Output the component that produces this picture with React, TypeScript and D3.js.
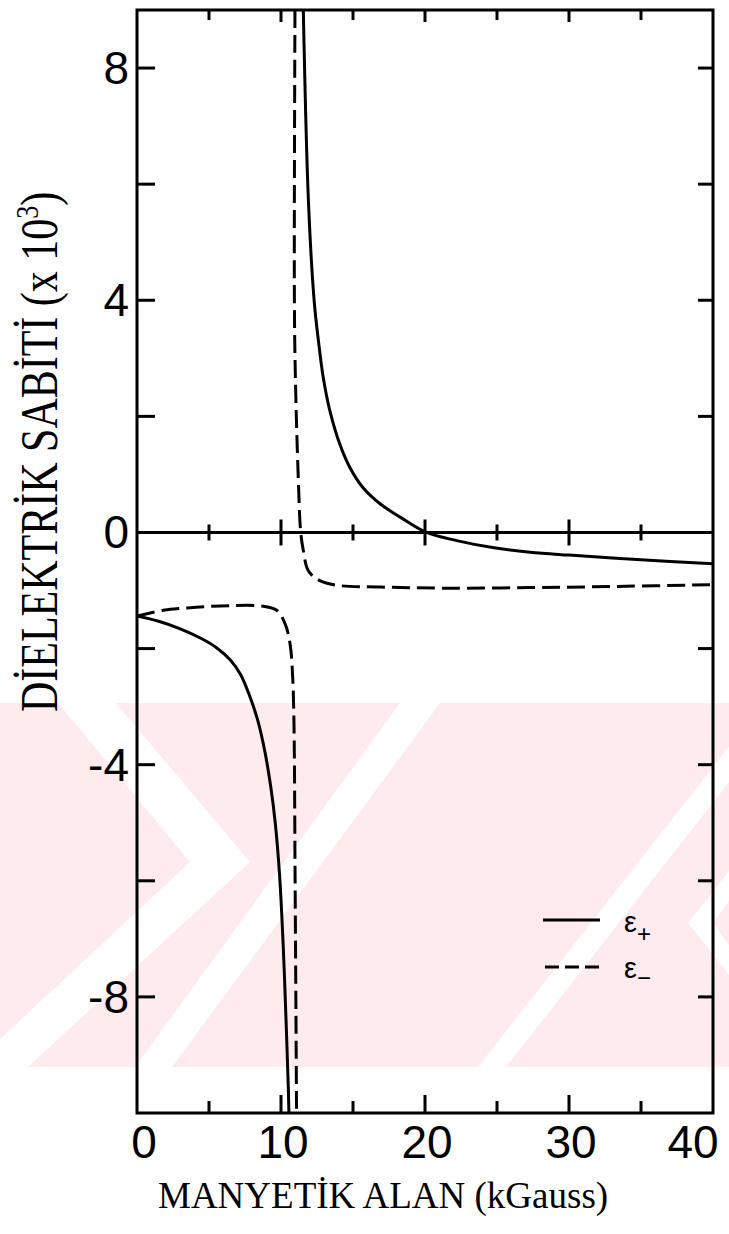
import React from "react";
import * as d3 from "d3";

// ---- data (x: kGauss, y: dielectric constant x 10^3) ----
const epsPlusLow: [number, number][] = [
  [0, -1.44], [1.5, -1.53], [3, -1.66], [4.5, -1.83], [5.5, -1.98], [6.5, -2.2],
  [7.2, -2.45], [7.8, -2.8], [8.4, -3.25], [8.9, -3.8], [9.3, -4.4], [9.6, -5.0],
  [9.9, -5.9], [10.15, -7.1], [10.35, -8.4], [10.5, -9.5], [10.55, -10],
];
const epsPlusHigh: [number, number][] = [
  [11.55, 9], [11.9, 5.74], [12.3, 4], [12.6, 3.3], [12.94, 2.66], [13.4, 2.09],
  [14.1, 1.51], [14.8, 1.11], [15.7, 0.77], [16.9, 0.49], [18.3, 0.26], [20.1, 0],
  [22.2, -0.14], [24.7, -0.26], [27.3, -0.34], [30, -0.39], [35, -0.47], [40, -0.54],
];
const epsMinusLow: [number, number][] = [
  [0, -1.44], [1.83, -1.34], [4.1, -1.29], [6.46, -1.26], [8.77, -1.27], [9.7, -1.34],
  [10.28, -1.57], [10.63, -1.92], [10.81, -2.49], [10.9, -3.29], [10.98, -6], [11.08, -10],
];
const epsMinusHigh: [number, number][] = [
  [10.97, 9], [10.93, 4], [11.0, 2.66], [11.2, 0.94], [11.37, 0], [11.55, -0.31],
  [11.9, -0.66], [12.7, -0.83], [13.9, -0.91], [16.9, -0.94], [21.5, -0.96],
  [27.3, -0.95], [33, -0.93], [40, -0.9],
];

const xMinorTicks = [5, 10, 15, 20, 25, 30, 35];
const xLabels = [0, 10, 20, 30, 40];
const yTicks = [-8, -6, -4, -2, 0, 2, 4, 6, 8];
const yLabels = [8, 4, 0, -4, -8];

// watermark (decorative background, pixel polygons)
const WM_PINK = "#fdebee";
const wmWhite: [number, number][][] = [
  [[58, 703], [116, 703], [250, 862], [28, 1067], [-30, 1067], [190, 862]],
  [[135, 1067], [172, 1067], [440, 703], [400, 703]],
  [[478, 1067], [506, 1067], [791, 703], [763, 703]],
  [[729, 871], [688, 923], [729, 975], [729, 945], [713, 923], [729, 901]],
];

const W = 729;
const H = 1234;
const L = 137, R = 713, T = 10, B = 1113;

export default function App() {
  const x = d3.scaleLinear().domain([0, 40]).range([L, R]);
  const y = d3.scaleLinear().domain([-10, 9]).range([B, T]);
  const line = d3
    .line<[number, number]>()
    .x((d) => x(d[0]))
    .y((d) => y(d[1]))
    .curve(d3.curveCatmullRom.alpha(0.5));

  const sw = 3;
  const tickFont = "'Liberation Sans', Arial, sans-serif";
  const serif = "'Liberation Serif', 'Times New Roman', serif";

  return (
    <svg
      width={W}
      height={H}
      style={{ position: "absolute", left: 0, top: 0, background: "#fff" }}
    >
      <defs>
        <clipPath id="plot">
          <rect x={L} y={T} width={R - L} height={B - T} />
        </clipPath>
      </defs>
      {/* watermark */}
      <rect x={0} y={703} width={W} height={364} fill={WM_PINK} />
      {wmWhite.map((p, i) => (
        <polygon key={i} points={p.map((q) => q.join(",")).join(" ")} fill="#fff" />
      ))}

      {/* frame */}
      <rect x={L} y={T} width={R - L} height={B - T} fill="none" stroke="#000" strokeWidth={sw} />
      {/* zero line */}
      <line x1={L} x2={R} y1={y(0)} y2={y(0)} stroke="#000" strokeWidth={sw} />

      {/* y ticks left/right */}
      {yTicks.map((t) => (
        <g key={"yt" + t}>
          <line x1={L} x2={L + 18} y1={y(t)} y2={y(t)} stroke="#000" strokeWidth={sw} />
          <line x1={R - 15} x2={R} y1={y(t)} y2={y(t)} stroke="#000" strokeWidth={sw} />
        </g>
      ))}
      {/* x ticks top/bottom/zero line */}
      {xMinorTicks.map((t) => {
        const major = t % 10 === 0;
        return (
          <g key={"xt" + t}>
            <line x1={x(t)} x2={x(t)} y1={T} y2={T + (major ? 12 : 10)} stroke="#000" strokeWidth={sw} />
            <line x1={x(t)} x2={x(t)} y1={B} y2={B - (major ? 18 : 12)} stroke="#000" strokeWidth={sw} />
            <line
              x1={x(t)} x2={x(t)}
              y1={y(0) - (major ? 13 : 8)} y2={y(0) + (major ? 13 : 8)}
              stroke="#000" strokeWidth={sw}
            />
          </g>
        );
      })}

      {/* curves */}
      <g clipPath="url(#plot)" fill="none" stroke="#000" strokeWidth={sw}>
        <path d={line(epsPlusLow) || ""} />
        <path d={line(epsPlusHigh) || ""} />
        <path d={line(epsMinusLow) || ""} strokeDasharray="18,7" />
        <path d={line(epsMinusHigh) || ""} strokeDasharray="18,7" />
      </g>

      {/* y labels */}
      {yLabels.map((t) => (
        <text
          key={"yl" + t}
          x={L - 8}
          y={y(t) + 16}
          textAnchor="end"
          fontFamily={tickFont}
          fontSize={46}
          fill="#000"
        >
          {String(t)}
        </text>
      ))}
      {/* x labels */}
      {xLabels.map((t) => (
        <text
          key={"xl" + t}
          x={x(t) + (t === 0 ? 7 : t === 40 ? -20 : 2)}
          y={1158}
          textAnchor="middle"
          fontFamily={tickFont}
          fontSize={46}
          fill="#000"
        >
          {String(t)}
        </text>
      ))}

      {/* axis titles */}
      <text x={158} y={1208} fontFamily={serif} fontSize={37} fill="#000">
        MANYETİK ALAN (kGauss)
      </text>
      <text
        transform="translate(57,712) rotate(-90) scale(1,1.25)"
        fontFamily={serif}
        fontSize={42}
        fill="#000"
      >
        DİELEKTRİK SABİTİ (x 10
        <tspan dy={-15} fontSize={26}>3</tspan>
        <tspan dy={15}>)</tspan>
      </text>

      {/* legend */}
      <line x1={543} x2={600} y1={920} y2={920} stroke="#000" strokeWidth={sw} />
      <text x={624} y={932} fontFamily={tickFont} fontSize={29} fill="#000">
        ε<tspan dy={10} fontSize={24}>+</tspan>
      </text>
      <line x1={545} x2={603} y1={967} y2={967} stroke="#000" strokeWidth={sw} strokeDasharray="14,6" />
      <text x={624} y={978} fontFamily={tickFont} fontSize={29} fill="#000">
        ε<tspan dy={8} fontSize={24}>−</tspan>
      </text>
    </svg>
  );
}
